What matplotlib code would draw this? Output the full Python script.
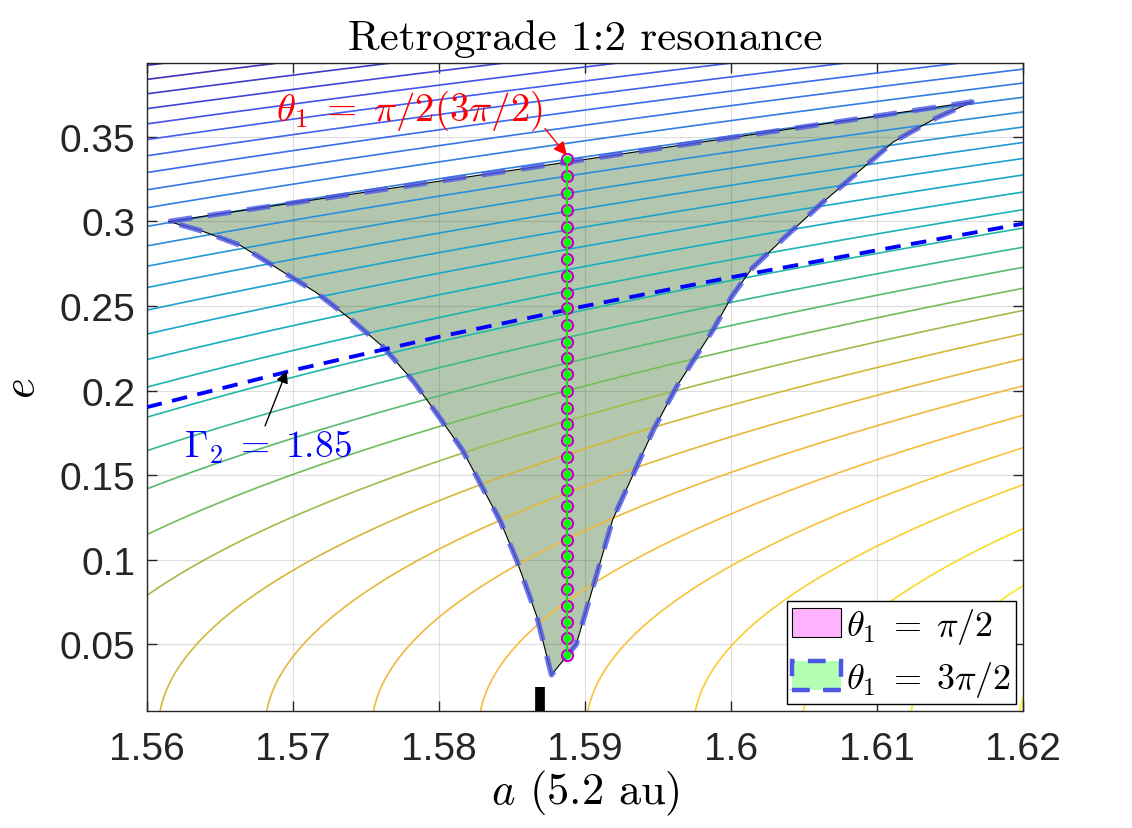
import numpy as np
import matplotlib
matplotlib.use("Agg")
import matplotlib.pyplot as plt
from matplotlib.colors import LinearSegmentedColormap
from matplotlib.patches import Patch

plt.rcParams['mathtext.fontset'] = 'cm'
plt.rcParams['font.family'] = ['Liberation Sans', 'DejaVu Sans']

# libration region (a, e), clockwise from the left tip
region_a = [1.5615, 1.6165, 1.6140, 1.6111, 1.6088, 1.6063, 1.6036, 1.6014,
            1.6000, 1.5988, 1.5963, 1.5947, 1.5919, 1.5894, 1.5877, 1.5867,
            1.5853, 1.5842, 1.5828, 1.5816, 1.5801, 1.5783, 1.5762, 1.5740,
            1.5716, 1.5689, 1.5664, 1.5639]
region_e = [0.3000, 0.3707, 0.3610, 0.3470, 0.3300, 0.3115, 0.2900, 0.2720,
            0.2550, 0.2364, 0.2028, 0.1772, 0.1239, 0.0500, 0.0320, 0.0666,
            0.1002, 0.1229, 0.1456, 0.1650, 0.1834, 0.2050, 0.2257, 0.2420,
            0.2580, 0.2725, 0.2859, 0.2940]

# equilibrium points theta1 = pi/2 (3pi/2)
eq_e = [0.044, 0.054, 0.063, 0.073, 0.083, 0.093, 0.102, 0.112, 0.122, 0.132,
        0.141, 0.151, 0.161, 0.171, 0.180, 0.190, 0.200, 0.210, 0.219, 0.229,
        0.239, 0.249, 0.258, 0.268, 0.278, 0.288, 0.297, 0.307, 0.317, 0.327,
        0.337]
eq_a = [1.5888] * len(eq_e)

# Gamma2 = 1.85 curve
gam_a = [1.56, 1.57, 1.58, 1.59, 1.60, 1.61, 1.62]
gam_e = [0.1902, 0.2120, 0.2318, 0.2500, 0.2670, 0.2830, 0.2987]

# nominal resonance location
res_a = 1.5869
res_e = [0.0, 0.0248]

# contour levels of Gamma2 (the one at the bottom near a=1.5608 is level_base)
level_base = 1.87398
level_step = 0.004373
level_idx = np.arange(-23, 9)

parula_pts = [
    (0.00, (0.2422, 0.1504, 0.6603)),
    (0.15, (0.2700, 0.3500, 0.9500)),
    (0.39, (0.1500, 0.5900, 0.8400)),
    (0.50, (0.0800, 0.6700, 0.7800)),
    (0.58, (0.1300, 0.7200, 0.6500)),
    (0.68, (0.4500, 0.7400, 0.3500)),
    (0.71, (0.6200, 0.7400, 0.2800)),
    (0.745, (0.8500, 0.7200, 0.2200)),
    (0.84, (0.9800, 0.7300, 0.2400)),
    (0.92, (0.9800, 0.8200, 0.1800)),
    (1.00, (0.9769, 0.9839, 0.0805)),
]
parula = LinearSegmentedColormap.from_list('parula', parula_pts)

fig = plt.figure(figsize=(11.32, 8.29), dpi=100)
ax = fig.add_axes([0.1296, 0.1408, 0.7744, 0.7817])

A, E = np.meshgrid(np.linspace(1.555, 1.625, 500), np.linspace(0.0, 0.40, 500))
G = np.sqrt(A) * (np.sqrt(1 - E**2) + 0.5)
levels = level_base + level_step * level_idx

ax.fill(region_a, region_e, facecolor='#b3c7ae', edgecolor='none', zorder=1)
ax.contour(A, E, G, levels=levels, cmap=parula, vmin=levels[0], vmax=levels[-1],
           linewidths=1.2, zorder=2)

ra = region_a + region_a[:1]
re = region_e + region_e[:1]
edge_blue = (0.30, 0.34, 0.90)
ax.plot(ra, re, color='k', lw=0.8, zorder=3)
ax.plot(ra, re, color=edge_blue, lw=3.8, dashes=(4.5, 3.0), alpha=0.8, zorder=3.5)

ax.plot(gam_a, gam_e, color='b', lw=2.8, dashes=(4.0, 2.7), zorder=4)

ax.plot(eq_a, eq_e, 'o-', color='m', mfc='none', ms=8, mew=1.5, lw=1.5, zorder=5)
ax.plot(eq_a, eq_e, '.-', color=(0, 1, 0), ms=9, lw=1.2, zorder=6)

ax.plot([res_a, res_a], res_e, color='k', lw=7, solid_capstyle='butt', zorder=6)

ax.annotate('', xy=(1.58875, 0.3391), xytext=(1.58726, 0.3549),
            arrowprops=dict(arrowstyle='-|>', color='r', lw=1.0, mutation_scale=20,
                            shrinkA=0, shrinkB=0), zorder=7)
ax.text(1.57802, 0.3658, r'$\theta_1\;=\;\pi/2(3\pi/2)$', color='r', fontsize=28,
        ha='center', va='center', zorder=7)
ax.annotate('', xy=(1.56958, 0.2117), xytext=(1.5681, 0.1792),
            arrowprops=dict(arrowstyle='-|>', color='k', lw=1.0, mutation_scale=18,
                            shrinkA=0, shrinkB=0), zorder=7)
ax.text(1.56832, 0.1671, r'$\Gamma_2\;=\;1.85$', color='b', fontsize=27,
        ha='center', va='center', zorder=7)

ax.set_xlim(1.56, 1.62)
ax.set_ylim(0.0105, 0.3935)
ax.set_xticks([1.56, 1.57, 1.58, 1.59, 1.60, 1.61, 1.62])
ax.set_xticklabels(['1.56', '1.57', '1.58', '1.59', '1.6', '1.61', '1.62'])
ax.set_yticks([0.05, 0.10, 0.15, 0.20, 0.25, 0.30, 0.35])
ax.set_yticklabels(['0.05', '0.1', '0.15', '0.2', '0.25', '0.3', '0.35'])

dark = (0.15, 0.15, 0.15)
ax.tick_params(axis='both', direction='in', length=7, width=1, top=True, right=True,
               labelsize=28, colors=dark)
ax.tick_params(axis='x', pad=14)
ax.tick_params(axis='y', pad=8)
for s in ax.spines.values():
    s.set_linewidth(1.0)
    s.set_color(dark)

ax.grid(True, color=dark, alpha=0.15, lw=0.8)
ax.set_axisbelow('line')

ax.set_title('Retrograde 1:2 resonance', family='cmr10', fontsize=31, pad=10)
ax.set_xlabel(r'$a$ (5.2 au)', family='cmr10', fontsize=32, labelpad=1)
ax.set_ylabel(r'$e$', fontsize=32, labelpad=12)

h1 = Patch(facecolor=(1, 0.7, 1), edgecolor='k', lw=0.8, label=r'$\theta_1\;=\;\pi/2$')
h2 = Patch(facecolor=(0.7, 1, 0.7), edgecolor=edge_blue, lw=3.2,
           linestyle=(0, (4, 3)), label=r'$\theta_1\;=\;3\pi/2$')
leg = ax.legend(handles=[h1, h2], loc='lower right', fontsize=26, frameon=True,
                fancybox=False, edgecolor='k', framealpha=1, handlelength=1.35,
                handleheight=0.85, handletextpad=0.12, borderpad=0.15,
                labelspacing=0.35, borderaxespad=0.2)
leg.get_frame().set_linewidth(1.0)
leg.set_zorder(10)

fig.savefig('out.png', dpi=100)
